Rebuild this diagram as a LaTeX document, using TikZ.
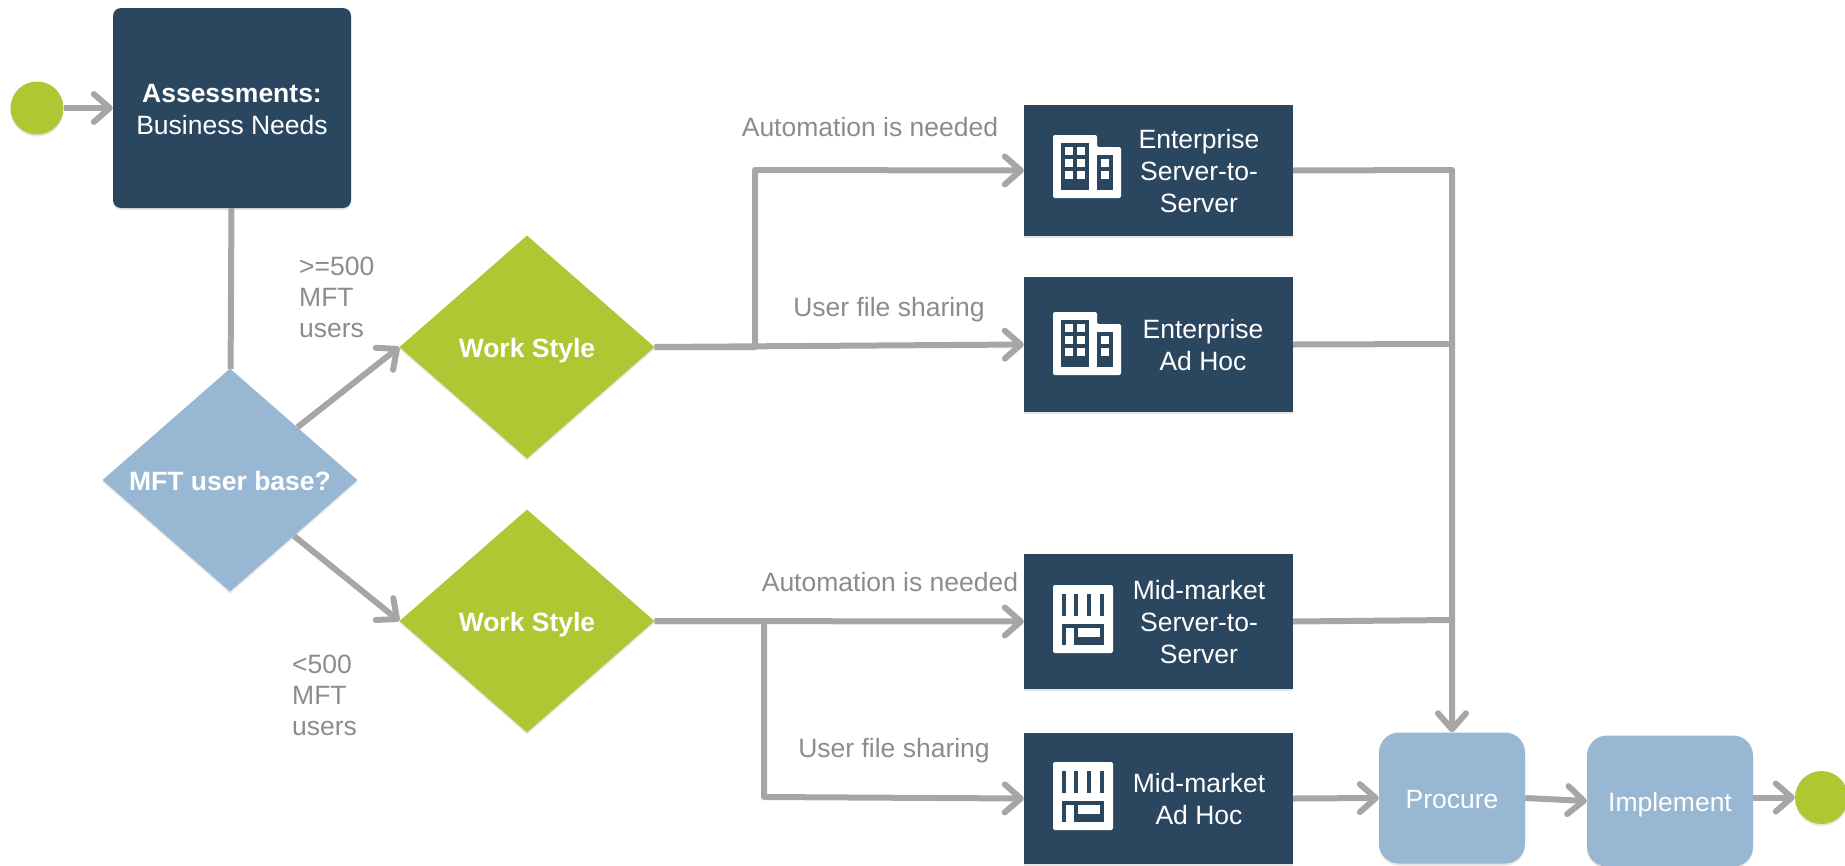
\documentclass[tikz,border=0pt]{standalone}
\usepackage{fontspec}
\setmainfont{Liberation Sans}
\usetikzlibrary{arrows.meta, positioning, shapes.geometric, shadows}
\definecolor{navy}{HTML}{2B475F}
\definecolor{steel}{HTML}{97B7D3}
\definecolor{lime}{HTML}{AFC733}
\definecolor{wire}{HTML}{A6A6A6}
\definecolor{note}{HTML}{8C8C8C}

\begin{document}
\begin{tikzpicture}[x=1pt, y=-1pt, node distance=100pt, on grid]

    \tikzset{
        softShadow/.style={drop shadow={shadow xshift=0pt, shadow yshift=-2pt, opacity=0.1, fill=black}},
        darkBox/.style={rectangle, fill=navy, inner sep=0pt, softShadow},
        planBox/.style={darkBox, minimum width=269pt, minimum height=133pt},
        planText/.style={align=center, text=white, font=\fontsize{26.5}{32}\selectfont, inner sep=0pt},
        lightBox/.style={rectangle, rounded corners=20pt, fill=steel, text=white, font=\fontsize{26.5}{32}\selectfont, inner sep=0pt, text height=21pt, text depth=0pt, minimum height=131pt, softShadow},
        decision/.style={diamond, aspect=1.14, inner sep=0pt, text=white, font=\bfseries\fontsize{26.5}{32}\selectfont, text height=21pt, text depth=0pt, minimum width=255pt, minimum height=223pt, softShadow},
        dot/.style={circle, fill=lime, inner sep=0pt, minimum size=53pt, softShadow},
        wireLine/.style={draw=wire, line width=6pt},
        arrowLine/.style={wireLine, -{Straight Barb[length=16pt, width=28pt, line width=6pt, round]}},
        noteText/.style={text=note, font=\fontsize{26.5}{31}\selectfont, inner sep=0pt, align=left},
        buildingIcon/.pic={
            \fill[white, rounded corners=2pt] (0,0) -- (44,0) -- (44,12) -- (68,12) -- (68,63) -- (0,63) -- cycle;
            \fill[navy] (8,8) rectangle (36,55);
            \fill[navy] (44,20) rectangle (60,55);
            \foreach \rowy in {12,24,36} {
                \fill[white] (12,\rowy) rectangle +(8,8);
                \fill[white] (24,\rowy) rectangle +(8,8);
            }
            \foreach \rowy in {24,36} {
                \fill[white] (48,\rowy) rectangle +(8,8);
            }
        },
        marketIcon/.pic={
            \fill[white, rounded corners=2pt] (0,0) rectangle (60,68);
            \foreach \barx in {8.7,21.3,34,47} {
                \fill[navy] (\barx,9) rectangle +(4,22);
            }
            \fill[navy] (8.7,39) rectangle (51.3,60);
            \fill[white] (12.7,43) rectangle (21.3,60);
            \fill[white] (25.3,43) rectangle (47,52);
        }
    }

    \useasboundingbox (0,0) rectangle (1845,865);

    % Start and assessment
    \node[dot] (start) at (37,108) {};
    \node[darkBox, rounded corners=8pt, minimum width=238pt, minimum height=200pt] (assess) [right=195pt of start] {};
    \node[planText] (assessText) at (232,110) {\textbf{Assessments:}\\Business Needs};

    % Decisions
    \node[decision, fill=steel] (base) at (230,480) {MFT user base?};
    \node[decision, fill=lime] (styleA) at (527,347) {Work Style};
    \node[decision, fill=lime] (styleB) [below=274pt of styleA] {Work Style};

    % Plans
    \node[planBox, minimum height=131pt] (entS) at (1158.5,170.5) {};
    \node[planBox, minimum height=135pt] (entA) at (1158.5,344.5) {};
    \node[planBox, minimum height=135pt] (midS) at (1158.5,621.5) {};
    \node[planBox, minimum height=131pt] (midA) at (1158.5,798.5) {};

    \node[planText] (entSText) at (1199,171) {Enterprise\\Server-to-\\Server};
    \node[planText] (entAText) at (1203,345) {Enterprise\\Ad Hoc};
    \node[planText] (midSText) at (1199,622) {Mid-market\\Server-to-\\Server};
    \node[planText] (midAText) at (1199,799) {Mid-market\\Ad Hoc};

    \pic at (1053,135) {buildingIcon};
    \pic at (1053,312) {buildingIcon};
    \pic at (1053,585) {marketIcon};
    \pic at (1053,762) {marketIcon};

    % Last steps
    \node[lightBox, minimum width=146pt] (procure) at (1452,798) {Procure};
    \node[lightBox, minimum width=166pt] (implement) at (1670,801) {Implement};
    \node[dot] (finish) at (1821.5,797.5) {};

    \coordinate (upA) at (755,170);
    \coordinate (downB) at (764,797);
    \coordinate (rail) at (1452,170);
    \coordinate (railA) at (1452,344);
    \coordinate (railB) at (1452,620);

    % Connectors
    \draw[arrowLine] (start) -- (assess);
    \draw[wireLine] (assess) -- (base);
    \draw[arrowLine] (base.38) -- (styleA.west);
    \draw[arrowLine] (base.south east) -- (styleB.west);
    \draw[arrowLine, line join=round] (styleA.east) -| (upA) -- (entS.west);
    \draw[arrowLine] (styleA.east) -- (entA.west);
    \draw[arrowLine] (styleB.east) -- (midS.west);
    \draw[arrowLine, line join=round] (styleB.east) -| (downB) -- (midA.west);
    \draw[arrowLine, line join=round] (entS.east) -- (rail) -- (procure.north);
    \draw[wireLine] (entA.east) -- (railA);
    \draw[wireLine] (midS.east) -- (railB);
    \draw[arrowLine] (midA.east) -- (procure.west);
    \draw[arrowLine] (procure.east) -- (implement.west);
    \draw[arrowLine] (implement.east |- finish) -- (finish.west);

    % Labels
    \node[noteText] (autoA) at (870,127) {Automation is needed};
    \node[noteText] (shareA) at (889,310) {User file sharing};
    \node[noteText] (autoB) at (890,582) {Automation is needed};
    \node[noteText] (shareB) at (894,751) {User file sharing};
    \node[noteText, anchor=west] (bigNote) at (299,297) {>=500\\MFT\\users};
    \node[noteText, anchor=west] (smallNote) at (292,695) {<500\\MFT\\users};
\end{tikzpicture}
\end{document}
